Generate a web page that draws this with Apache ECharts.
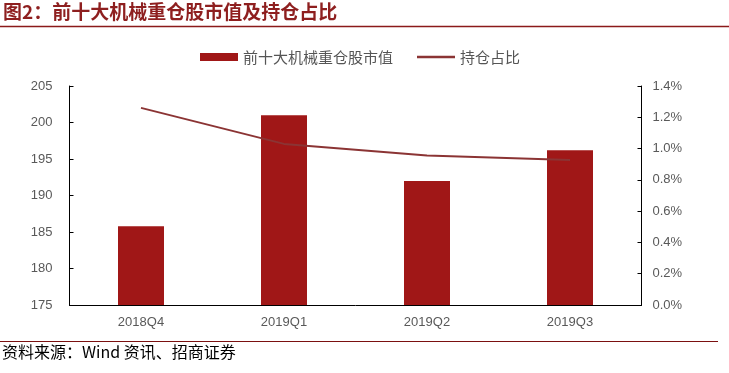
<!DOCTYPE html>
<html>
<head>
<meta charset="utf-8">
<script src="https://cdn.jsdelivr.net/npm/echarts@6/dist/echarts.min.js"></script>
<style>
html,body{margin:0;padding:0;background:#fff;}
#c{width:729px;height:373px;}
</style>
</head>
<body>
<div id="c"></div>
<script>
const categories = ['2018Q4', '2019Q1', '2019Q2', '2019Q3'];
const marketValue = [185.8, 201.0, 192.0, 196.2];
const holdingRatio = [1.26, 1.03, 0.955, 0.927];
const leftTicks = { min: 175, max: 205, interval: 5 };
const rightTicks = { min: 0, max: 1.4, interval: 0.2 };
const titleText = '图2：前十大机械重仓股市值及持仓占比';
const sourceText = '资料来源：Wind 资讯、招商证券';
const seriesNames = ['前十大机械重仓股市值', '持仓占比'];

const chart = echarts.init(document.getElementById('c'), null, { renderer: 'canvas' });
const axisFont = { color: '#595959', fontSize: 13, fontFamily: 'Arial, "Liberation Sans", sans-serif' };
chart.setOption({
  animation: false,
  backgroundColor: '#fff',
  grid: { left: 69.5, right: 87.5, top: 86, bottom: 68, containLabel: false },
  legend: {
    left: 195, top: 44,
    itemWidth: 38, itemHeight: 8, itemGap: 24,
    symbolKeepAspect: true,
    textStyle: { color: '#555', fontSize: 15, fontFamily: '"Noto Sans CJK SC", sans-serif', lineHeight: 16 },
    data: [
      { name: seriesNames[0], icon: 'rect' },
      { name: seriesNames[1], icon: 'path://M0,0L38,0L38,2.6L0,2.6Z' }
    ]
  },
  graphic: [
    { type: 'text', left: 3, top: 2, style: { text: titleText, fill: '#8E1F1F', font: 'bold 19px "Noto Sans CJK SC", sans-serif' } },
    { type: 'line', shape: { x1: 0, y1: 26.5, x2: 729, y2: 26.5 }, style: { stroke: '#8B1A1A', lineWidth: 1.5 } },
    { type: 'line', shape: { x1: 0, y1: 341.5, x2: 718, y2: 341.5 }, style: { stroke: '#7B1010', lineWidth: 1.2 } },
    { type: 'text', left: 2, top: 344, style: { text: sourceText, fill: '#000', font: '16px "Noto Sans CJK SC", sans-serif' } }
  ],
  xAxis: {
    type: 'category',
    data: categories,
    axisLine: { lineStyle: { color: '#000', width: 1 } },
    axisTick: { inside: true, length: 4, lineStyle: { color: '#000' } },
    axisLabel: Object.assign({ margin: 11 }, axisFont)
  },
  yAxis: [
    {
      type: 'value', min: leftTicks.min, max: leftTicks.max, interval: leftTicks.interval,
      axisLine: { show: true, lineStyle: { color: '#000', width: 1 } },
      axisTick: { show: true, inside: true, length: 4, lineStyle: { color: '#000' } },
      splitLine: { show: false },
      axisLabel: Object.assign({ margin: 17 }, axisFont)
    },
    {
      type: 'value', min: rightTicks.min, max: rightTicks.max, interval: rightTicks.interval,
      position: 'right',
      axisLine: { show: true, lineStyle: { color: '#000', width: 1 } },
      axisTick: { show: true, inside: true, length: 4, lineStyle: { color: '#000' } },
      splitLine: { show: false },
      axisLabel: Object.assign({ margin: 11, formatter: v => v.toFixed(1) + '%' }, axisFont)
    }
  ],
  series: [
    {
      name: seriesNames[0], type: 'bar', data: marketValue, barWidth: 46,
      itemStyle: { color: '#A01717' }
    },
    {
      name: seriesNames[1], type: 'line', yAxisIndex: 1, data: holdingRatio,
      symbol: 'none', lineStyle: { color: '#8B3434', width: 2 }, itemStyle: { color: '#8B3434' }
    }
  ]
});
</script>
</body>
</html>
